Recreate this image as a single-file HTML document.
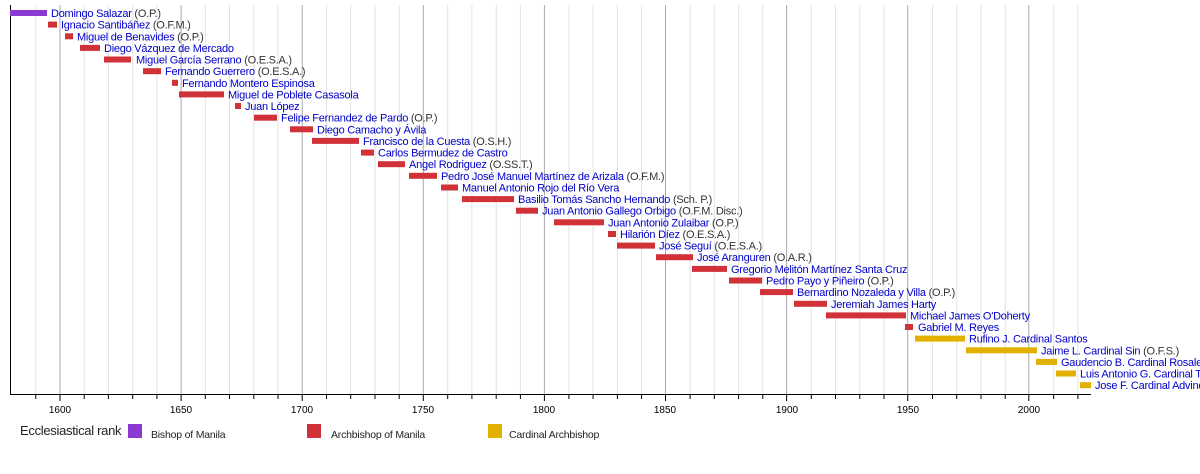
<!DOCTYPE html>
<html><head><meta charset="utf-8"><style>
html,body{margin:0;padding:0;background:#fff;}
svg{display:block;font-family:"Liberation Sans",Arial,sans-serif;}
.n{fill:#0000c8;}
.p{fill:#333;}
.l{font-size:11px;letter-spacing:-0.25px;}
</style></head><body>
<svg width="1200" height="474" viewBox="0 0 1200 474" xmlns="http://www.w3.org/2000/svg">
<g stroke="#e2e2e2" stroke-width="1">
<line x1="35.8" y1="5" x2="35.8" y2="394"/><line x1="84.2" y1="5" x2="84.2" y2="394"/><line x1="108.4" y1="5" x2="108.4" y2="394"/><line x1="132.7" y1="5" x2="132.7" y2="394"/><line x1="156.9" y1="5" x2="156.9" y2="394"/>
<line x1="205.3" y1="5" x2="205.3" y2="394"/><line x1="229.5" y1="5" x2="229.5" y2="394"/><line x1="253.8" y1="5" x2="253.8" y2="394"/><line x1="278" y1="5" x2="278" y2="394"/>
<line x1="326.5" y1="5" x2="326.5" y2="394"/><line x1="350.7" y1="5" x2="350.7" y2="394"/><line x1="375" y1="5" x2="375" y2="394"/><line x1="399.2" y1="5" x2="399.2" y2="394"/>
<line x1="447.7" y1="5" x2="447.7" y2="394"/><line x1="471.9" y1="5" x2="471.9" y2="394"/><line x1="496.2" y1="5" x2="496.2" y2="394"/><line x1="520.4" y1="5" x2="520.4" y2="394"/>
<line x1="568.9" y1="5" x2="568.9" y2="394"/><line x1="593.1" y1="5" x2="593.1" y2="394"/><line x1="617.4" y1="5" x2="617.4" y2="394"/><line x1="641.6" y1="5" x2="641.6" y2="394"/>
<line x1="690.1" y1="5" x2="690.1" y2="394"/><line x1="714.3" y1="5" x2="714.3" y2="394"/><line x1="738.6" y1="5" x2="738.6" y2="394"/><line x1="762.8" y1="5" x2="762.8" y2="394"/>
<line x1="811.3" y1="5" x2="811.3" y2="394"/><line x1="835.5" y1="5" x2="835.5" y2="394"/><line x1="859.8" y1="5" x2="859.8" y2="394"/><line x1="884" y1="5" x2="884" y2="394"/>
<line x1="932.5" y1="5" x2="932.5" y2="394"/><line x1="956.7" y1="5" x2="956.7" y2="394"/><line x1="981" y1="5" x2="981" y2="394"/><line x1="1005.2" y1="5" x2="1005.2" y2="394"/>
<line x1="1053.7" y1="5" x2="1053.7" y2="394"/><line x1="1077.9" y1="5" x2="1077.9" y2="394"/>
</g>
<g stroke="#aaa" stroke-width="1">
<line x1="60" y1="5" x2="60" y2="394"/><line x1="181.1" y1="5" x2="181.1" y2="394"/><line x1="302.2" y1="5" x2="302.2" y2="394"/><line x1="423.3" y1="5" x2="423.3" y2="394"/><line x1="544.4" y1="5" x2="544.4" y2="394"/><line x1="665.5" y1="5" x2="665.5" y2="394"/><line x1="786.6" y1="5" x2="786.6" y2="394"/><line x1="907.7" y1="5" x2="907.7" y2="394"/><line x1="1028.8" y1="5" x2="1028.8" y2="394"/>
</g>
<line x1="10.5" y1="5" x2="10.5" y2="394.5" stroke="#000"/>
<line x1="10" y1="394.5" x2="1091" y2="394.5" stroke="#000"/>
<g stroke="#000" stroke-width="1">
<line x1="35.8" y1="394" x2="35.8" y2="399"/><line x1="84.2" y1="394" x2="84.2" y2="399"/><line x1="108.4" y1="394" x2="108.4" y2="399"/><line x1="132.7" y1="394" x2="132.7" y2="399"/><line x1="156.9" y1="394" x2="156.9" y2="399"/>
<line x1="205.3" y1="394" x2="205.3" y2="399"/><line x1="229.5" y1="394" x2="229.5" y2="399"/><line x1="253.8" y1="394" x2="253.8" y2="399"/><line x1="278" y1="394" x2="278" y2="399"/>
<line x1="326.5" y1="394" x2="326.5" y2="399"/><line x1="350.7" y1="394" x2="350.7" y2="399"/><line x1="375" y1="394" x2="375" y2="399"/><line x1="399.2" y1="394" x2="399.2" y2="399"/>
<line x1="447.7" y1="394" x2="447.7" y2="399"/><line x1="471.9" y1="394" x2="471.9" y2="399"/><line x1="496.2" y1="394" x2="496.2" y2="399"/><line x1="520.4" y1="394" x2="520.4" y2="399"/>
<line x1="568.9" y1="394" x2="568.9" y2="399"/><line x1="593.1" y1="394" x2="593.1" y2="399"/><line x1="617.4" y1="394" x2="617.4" y2="399"/><line x1="641.6" y1="394" x2="641.6" y2="399"/>
<line x1="690.1" y1="394" x2="690.1" y2="399"/><line x1="714.3" y1="394" x2="714.3" y2="399"/><line x1="738.6" y1="394" x2="738.6" y2="399"/><line x1="762.8" y1="394" x2="762.8" y2="399"/>
<line x1="811.3" y1="394" x2="811.3" y2="399"/><line x1="835.5" y1="394" x2="835.5" y2="399"/><line x1="859.8" y1="394" x2="859.8" y2="399"/><line x1="884" y1="394" x2="884" y2="399"/>
<line x1="932.5" y1="394" x2="932.5" y2="399"/><line x1="956.7" y1="394" x2="956.7" y2="399"/><line x1="981" y1="394" x2="981" y2="399"/><line x1="1005.2" y1="394" x2="1005.2" y2="399"/>
<line x1="1053.7" y1="394" x2="1053.7" y2="399"/><line x1="1077.9" y1="394" x2="1077.9" y2="399"/>
<line x1="60" y1="394" x2="60" y2="401"/><line x1="181.1" y1="394" x2="181.1" y2="401"/><line x1="302.2" y1="394" x2="302.2" y2="401"/><line x1="423.3" y1="394" x2="423.3" y2="401"/><line x1="544.4" y1="394" x2="544.4" y2="401"/><line x1="665.5" y1="394" x2="665.5" y2="401"/><line x1="786.6" y1="394" x2="786.6" y2="401"/><line x1="907.7" y1="394" x2="907.7" y2="401"/><line x1="1028.8" y1="394" x2="1028.8" y2="401"/>
</g>
<g font-size="10" fill="#000" text-anchor="middle">
<text x="60" y="413">1600</text><text x="181" y="413">1650</text><text x="302" y="413">1700</text><text x="423" y="413">1750</text><text x="544" y="413">1800</text><text x="665" y="413">1850</text><text x="787" y="413">1900</text><text x="908" y="413">1950</text><text x="1029" y="413">2000</text>
</g>
<g fill="#d03238">
<rect x="48" y="21.6" width="9" height="6"/>
<rect x="65" y="33.3" width="8" height="6"/>
<rect x="80" y="44.9" width="20" height="6"/>
<rect x="104" y="56.5" width="27" height="6"/>
<rect x="143" y="68.2" width="18" height="6"/>
<rect x="172" y="79.8" width="6" height="6"/>
<rect x="179" y="91.4" width="45" height="6"/>
<rect x="235" y="103" width="6" height="6"/>
<rect x="254" y="114.7" width="23" height="6"/>
<rect x="290" y="126.3" width="23" height="6"/>
<rect x="312" y="137.9" width="47" height="6"/>
<rect x="361" y="149.6" width="13" height="6"/>
<rect x="378" y="161.2" width="27" height="6"/>
<rect x="409" y="172.8" width="28" height="6"/>
<rect x="441" y="184.5" width="17" height="6"/>
<rect x="462" y="196.1" width="52" height="6"/>
<rect x="516" y="207.7" width="22" height="6"/>
<rect x="554" y="219.3" width="50" height="6"/>
<rect x="608" y="231" width="8" height="6"/>
<rect x="617" y="242.6" width="38" height="6"/>
<rect x="656" y="254.2" width="37" height="6"/>
<rect x="692" y="265.9" width="35" height="6"/>
<rect x="729" y="277.5" width="33" height="6"/>
<rect x="760" y="289.1" width="33" height="6"/>
<rect x="794" y="300.8" width="33" height="6"/>
<rect x="826" y="312.4" width="80" height="6"/>
<rect x="905" y="324" width="8" height="6"/>
</g>
<rect x="10" y="10" width="37" height="6" fill="#8a3ad0"/>
<g fill="#e2b000">
<rect x="915" y="335.6" width="50" height="6"/>
<rect x="966" y="347.3" width="71" height="6"/>
<rect x="1036" y="358.9" width="21" height="6"/>
<rect x="1056" y="370.5" width="20" height="6"/>
<rect x="1080" y="382.2" width="11" height="6"/>
</g>
<g class="l">
<text x="51" y="17"><tspan class="n">Domingo Salazar</tspan><tspan class="p"> (O.P.)</tspan></text>
<text x="61" y="28.6"><tspan class="n">Ignacio Santibáñez</tspan><tspan class="p"> (O.F.M.)</tspan></text>
<text x="77" y="40.3"><tspan class="n">Miguel de Benavides</tspan><tspan class="p"> (O.P.)</tspan></text>
<text x="104" y="51.9"><tspan class="n">Diego Vázquez de Mercado</tspan></text>
<text x="136" y="63.5"><tspan class="n">Miguel García Serrano</tspan><tspan class="p"> (O.E.S.A.)</tspan></text>
<text x="165" y="75.2"><tspan class="n">Fernando Guerrero</tspan><tspan class="p"> (O.E.S.A.)</tspan></text>
<text x="182" y="86.8"><tspan class="n">Fernando Montero Espinosa</tspan></text>
<text x="228" y="98.4"><tspan class="n">Miguel de Poblete Casasola</tspan></text>
<text x="245" y="110"><tspan class="n">Juan López</tspan></text>
<text x="281" y="121.7"><tspan class="n">Felipe Fernandez de Pardo</tspan><tspan class="p"> (O.P.)</tspan></text>
<text x="317" y="133.3"><tspan class="n">Diego Camacho y Ávila</tspan></text>
<text x="363" y="144.9"><tspan class="n">Francisco de la Cuesta</tspan><tspan class="p"> (O.S.H.)</tspan></text>
<text x="378" y="156.6"><tspan class="n">Carlos Bermudez de Castro</tspan></text>
<text x="409" y="168.2"><tspan class="n">Angel Rodriguez</tspan><tspan class="p"> (O.SS.T.)</tspan></text>
<text x="441" y="179.8"><tspan class="n">Pedro José Manuel Martínez de Arizala</tspan><tspan class="p"> (O.F.M.)</tspan></text>
<text x="462" y="191.5"><tspan class="n">Manuel Antonio Rojo del Río Vera</tspan></text>
<text x="518" y="203.1"><tspan class="n">Basilio Tomás Sancho Hernando</tspan><tspan class="p"> (Sch. P.)</tspan></text>
<text x="542" y="214.7"><tspan class="n">Juan Antonio Gallego Orbigo</tspan><tspan class="p"> (O.F.M. Disc.)</tspan></text>
<text x="608" y="226.3"><tspan class="n">Juan Antonio Zulaibar</tspan><tspan class="p"> (O.P.)</tspan></text>
<text x="620" y="238"><tspan class="n">Hilarión Díez</tspan><tspan class="p"> (O.E.S.A.)</tspan></text>
<text x="659" y="249.6"><tspan class="n">José Seguí</tspan><tspan class="p"> (O.E.S.A.)</tspan></text>
<text x="697" y="261.2"><tspan class="n">José Aranguren</tspan><tspan class="p"> (O.A.R.)</tspan></text>
<text x="731" y="272.9"><tspan class="n">Gregorio Melitón Martínez Santa Cruz</tspan></text>
<text x="766" y="284.5"><tspan class="n">Pedro Payo y Piñeiro</tspan><tspan class="p"> (O.P.)</tspan></text>
<text x="797" y="296.1"><tspan class="n">Bernardino Nozaleda y Villa</tspan><tspan class="p"> (O.P.)</tspan></text>
<text x="831" y="307.8"><tspan class="n">Jeremiah James Harty</tspan></text>
<text x="910" y="319.4"><tspan class="n">Michael James O'Doherty</tspan></text>
<text x="918" y="331"><tspan class="n">Gabriel M. Reyes</tspan></text>
<text x="969" y="342.6"><tspan class="n">Rufino J. Cardinal Santos</tspan></text>
<text x="1041" y="354.3"><tspan class="n">Jaime L. Cardinal Sin</tspan><tspan class="p"> (O.F.S.)</tspan></text>
<text x="1061" y="365.9"><tspan class="n">Gaudencio B. Cardinal Rosales</tspan></text>
<text x="1080" y="377.5"><tspan class="n">Luis Antonio G. Cardinal Tagle</tspan></text>
<text x="1095" y="389.2"><tspan class="n">Jose F. Cardinal Advincula</tspan></text>
</g>
<text x="20" y="435" font-size="13" fill="#222" letter-spacing="-0.3">Ecclesiastical rank</text>
<rect x="128" y="424" width="14" height="14" fill="#8a3ad0"/>
<text x="151" y="438" font-size="10.5" fill="#222" letter-spacing="-0.2">Bishop of Manila</text>
<rect x="307" y="424" width="14" height="14" fill="#d03238"/>
<text x="331" y="438" font-size="10.5" fill="#222" letter-spacing="-0.2">Archbishop of Manila</text>
<rect x="488" y="424" width="14" height="14" fill="#e2b000"/>
<text x="509" y="438" font-size="10.5" fill="#222" letter-spacing="-0.2">Cardinal Archbishop</text>
</svg>
</body></html>
